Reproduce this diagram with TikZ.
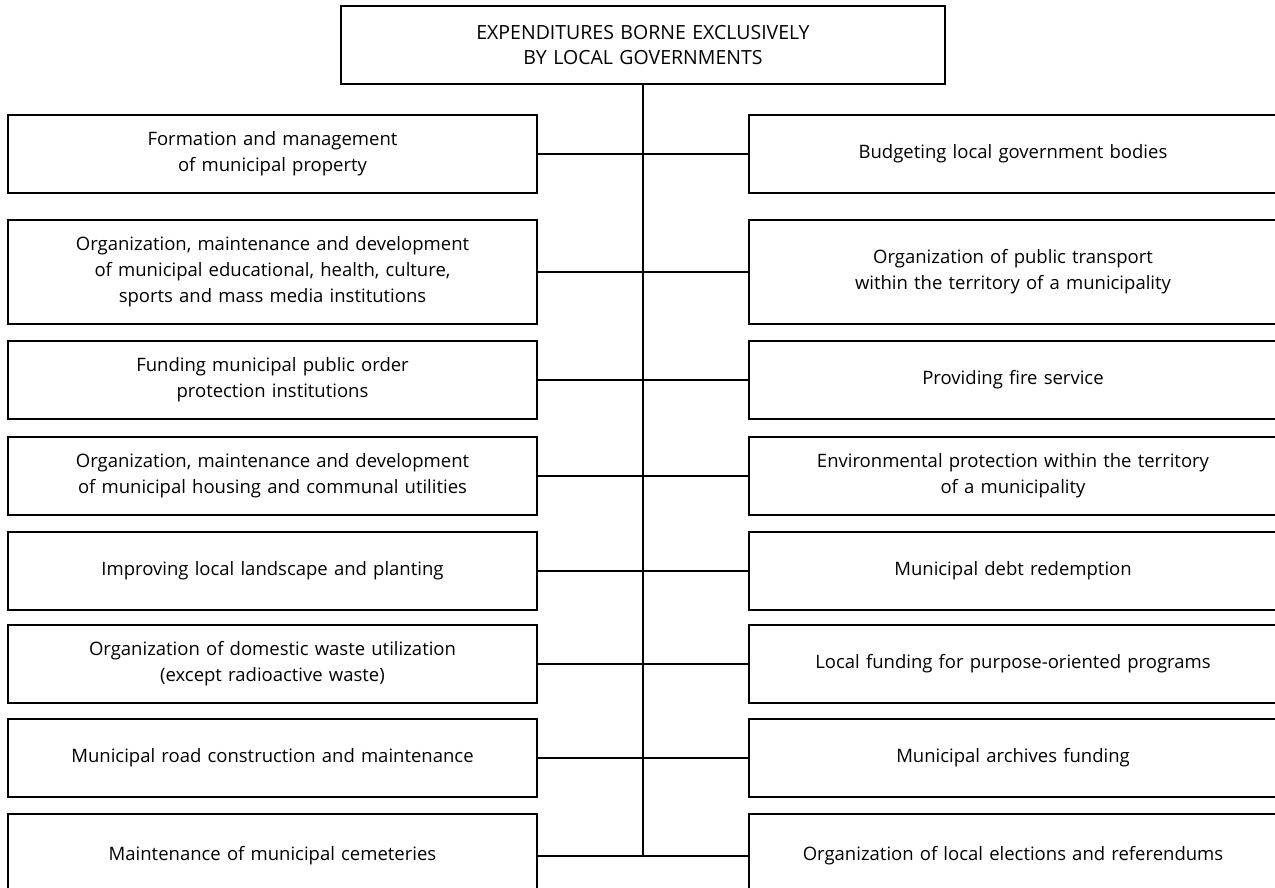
\documentclass[tikz,border=0pt]{standalone}
\usepackage{fontspec}
\setmainfont{Open Sans}

\tikzset{
  box/.style={draw, line width=1.5pt, inner sep=0pt, outer sep=0pt, align=center,
    anchor=north west, font=\fontsize{18.5}{26}\selectfont},
  leftbox/.style={box, minimum width=529pt, text width=520pt},
  rightbox/.style={box, minimum width=528pt, text width=520pt},
  link/.style={line width=1.5pt}
}

\begin{document}
\begin{tikzpicture}[x=1pt, y=-1pt]
  \clip (0,0) rectangle (1275,887);
  \useasboundingbox (0,0) rectangle (1275,887);
  \fill[white] (0,0) rectangle (1275,887);
  %title
  \node[box, minimum width=604pt, minimum height=78pt, text width=590pt,
    font=\fontsize{19.5}{24.5}\selectfont] (top) at (341,6)
    {EXPENDITURES BORNE EXCLUSIVELY\\BY LOCAL GOVERNMENTS};
  %left column
  \node[leftbox, minimum height=78pt] (l1) at (8,115) {Formation and management\\of municipal property};
  \node[leftbox, minimum height=104pt] (l2) at (8,220) {Organization, maintenance and development\\of municipal educational, health, culture,\\sports and mass media institutions};
  \node[leftbox, minimum height=78pt] (l3) at (8,341) {Funding municipal public order\\protection institutions};
  \node[leftbox, minimum height=78pt] (l4) at (8,437) {Organization, maintenance and development\\of municipal housing and communal utilities};
  \node[leftbox, minimum height=78pt] (l5) at (8,532) {Improving local landscape and planting};
  \node[leftbox, minimum height=78pt] (l6) at (8,625) {Organization of domestic waste utilization\\(except radioactive waste)};
  \node[leftbox, minimum height=78pt] (l7) at (8,719) {Municipal road construction and maintenance};
  \node[leftbox, minimum height=84pt] (l8) at (8,814) {Maintenance of municipal cemeteries};
  %right column
  \node[rightbox, minimum height=78pt] (r1) at (749,115) {Budgeting local government bodies};
  \node[rightbox, minimum height=104pt] (r2) at (749,220) {Organization of public transport\\within the territory of a municipality};
  \node[rightbox, minimum height=78pt] (r3) at (749,341) {Providing fire service};
  \node[rightbox, minimum height=78pt] (r4) at (749,437) {Environmental protection within the territory\\of a municipality};
  \node[rightbox, minimum height=78pt] (r5) at (749,532) {Municipal debt redemption};
  \node[rightbox, minimum height=78pt] (r6) at (749,625) {Local funding for purpose-oriented programs};
  \node[rightbox, minimum height=78pt] (r7) at (749,719) {Municipal archives funding};
  \node[rightbox, minimum height=84pt] (r8) at (749,814) {Organization of local elections and referendums};
  %trunk
  \coordinate (foot) at (top.south |- l8.east);
  \draw[link] (top.south) -- (foot);
  \foreach \i in {1,...,8}{
    \draw[link] (l\i.east) -- (r\i.west);
  }
\end{tikzpicture}
\end{document}
